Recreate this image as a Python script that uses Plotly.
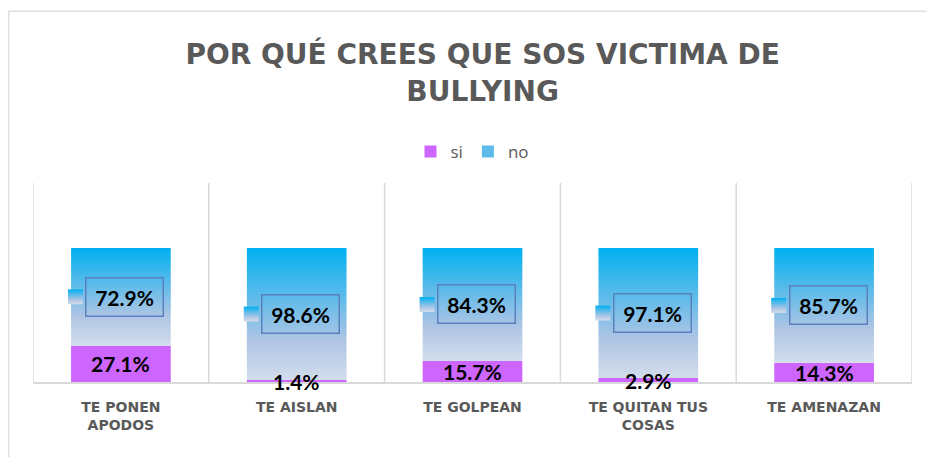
import plotly.graph_objects as go

categories = ["TE PONEN<br>APODOS", "TE AISLAN", "TE GOLPEAN", "TE QUITAN TUS<br>COSAS", "TE AMENAZAN"]
si_values = [0.271, 0.014, 0.157, 0.029, 0.143]
no_values = [0.729, 0.986, 0.843, 0.971, 0.857]

PURPLE = "#CC66FF"
BLUE_SCALE = [[0.0, "#D3DDEC"], [0.3, "#AFC5E4"], [1.0, "#00B0F0"]]
GRAY_TEXT = "#595959"
GRID = "#D9D9D9"

bar_w = 0.567
px_x = 1 / 176.0     # one pixel in x units
px_y = 1 / 134.0     # one pixel in y units

fig = go.Figure()

fig.add_trace(go.Bar(
    x=list(range(len(categories))),
    y=si_values,
    width=bar_w,
    marker=dict(color=PURPLE, line=dict(width=0)),
    name="si",
    hoverinfo="skip",
))

# legend-only entry for "no"
fig.add_trace(go.Bar(
    x=[0], y=[0], width=bar_w,
    marker=dict(color="#5CBBEA", line=dict(width=0)),
    name="no",
    hoverinfo="skip",
))

# gradient "no" segments, drawn as filled polygons stacked on "si"
for i, (s, n) in enumerate(zip(si_values, no_values)):
    x0, x1 = i - bar_w / 2, i + bar_w / 2
    fig.add_trace(go.Scatter(
        x=[x0, x1, x1, x0, x0],
        y=[s, s, s + n, s + n, s],
        mode="lines",
        fill="toself",
        line=dict(width=0, color="#00B0F0"),
        fillgradient=dict(type="vertical", colorscale=BLUE_SCALE),
        showlegend=False,
        hoverinfo="skip",
    ))

# data labels
for i, (s, n) in enumerate(zip(si_values, no_values)):
    fig.add_annotation(
        x=i, y=s / 2, text=f"<b>{s * 100:.1f}%</b>", showarrow=False,
        font=dict(family="Lato", size=21, color="black"),
    )
    cx = i + 4 * px_x
    cy = s + n / 2
    fig.add_annotation(
        x=cx, y=cy, text=f"<b>{n * 100:.1f}%</b>", showarrow=False,
        font=dict(family="Lato", size=21, color="black"),
        width=70, height=31, borderpad=3,
        bordercolor="#5A80C0", borderwidth=1.5,
    )
    # small legend key beside the label
    kx1 = cx - 42 * px_x
    kx0 = kx1 - 15 * px_x
    ky0 = cy - 7.5 * px_y
    ky1 = cy + 7.5 * px_y
    fig.add_trace(go.Scatter(
        x=[kx0, kx1, kx1, kx0, kx0],
        y=[ky0, ky0, ky1, ky1, ky0],
        mode="lines",
        fill="toself",
        line=dict(width=0, color="#00B0F0"),
        fillgradient=dict(type="vertical", colorscale=BLUE_SCALE),
        showlegend=False,
        hoverinfo="skip",
    ))

# vertical separators between categories
for k in range(len(categories) + 1):
    fig.add_shape(
        type="line", xref="x", yref="paper",
        x0=k - 0.5, x1=k - 0.5, y0=0, y1=1,
        line=dict(color=GRID, width=1.5), layer="below",
    )

# outer chart border
fig.add_shape(
    type="rect", xref="paper", yref="paper",
    x0=-0.0275, x1=1.05, y0=-0.6, y1=1.864,
    line=dict(color=GRID, width=1.2), layer="below",
)

fig.update_layout(
    width=927, height=449,
    margin=dict(l=25, r=23, t=175, b=75),
    paper_bgcolor="white",
    plot_bgcolor="white",
    barmode="overlay",
    title=dict(
        text="<b>POR QUÉ CREES QUE SOS VICTIMA DE<br>BULLYING</b>",
        x=0.512, xanchor="center", y=0.875, yanchor="middle",
        font=dict(family="DejaVu Sans", size=28, color=GRAY_TEXT),
    ),
    legend=dict(
        orientation="h", x=0.5, xanchor="center", y=1.156, yanchor="middle",
        font=dict(family="Open Sans", size=17, color=GRAY_TEXT),
        traceorder="normal", itemwidth=30,
    ),
    showlegend=True,
    xaxis=dict(
        range=[-0.5, 4.5],
        tickvals=list(range(len(categories))),
        ticktext=categories,
        tickfont=dict(family="DejaVu Sans", size=14, color=GRAY_TEXT, weight="bold"),
        showgrid=False, zeroline=False,
        showline=True, linecolor=GRID, linewidth=1.5,
        ticks="", ticklabelstandoff=11,
        fixedrange=True,
    ),
    yaxis=dict(
        range=[0, 1.485],
        visible=False, showgrid=False, zeroline=False,
    ),
)

fig.write_html("out.html")
